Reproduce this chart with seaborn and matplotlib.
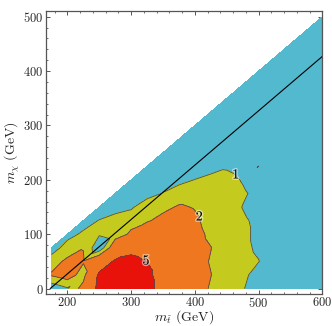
import numpy as np
import matplotlib
matplotlib.use("Agg")
import matplotlib.pyplot as plt
import matplotlib.tri as mtri
import matplotlib.patheffects as pe
from matplotlib.ticker import MultipleLocator
import seaborn as sns

# -----------------------------
# Data: significance on the (m_stop, m_chi) grid
# each column list runs from m_chi = 0 upward in 25 GeV steps,
# up to m_chi = m_stop - 100
# -----------------------------
m_stop = [175, 200, 225, 250, 275, 300, 325, 350, 375,
          400, 425, 450, 475, 500, 525, 550, 575, 600]
m_chi_step = 25

col_175 = [0.3, 2.1, 1.6, 0.4]
col_200 = [0.9, 2.6, 2.2, 1.5, 0.6]
col_225 = [2.5, 1.5, 2.1, 1.97, 1.2, 0.5]
col_250 = [5.7, 5.4, 3.5, 0.2, 1.1, 1.05, 0.3]
col_275 = [6.5, 6.0, 5.3, 3.0, 1.4, 1.4, 0.6, 0.3]
col_300 = [6.8, 6.5, 5.6, 4.35, 2.2, 1.6, 0.85, 0.4, 0.3]
col_325 = [6.0, 5.6, 4.95, 4.0, 2.8, 1.9, 1.6, 0.6, 0.4, 0.3]
col_350 = [3.8, 3.9, 3.8, 3.5, 3.0, 2.3, 1.76, 1.05, 0.5, 0.3, 0.2]
col_375 = [3.2, 3.3, 3.2, 3.0, 2.7, 2.4, 2.1, 1.5, 0.7, 0.4, 0.3, 0.2]
col_400 = [2.4, 2.35, 2.3, 2.3, 2.25, 2.15, 1.95, 1.6, 1.02, 0.5, 0.3, 0.25, 0.2]
col_425 = [1.92, 2.02, 1.95, 2.02, 1.85, 1.7, 1.6, 1.5, 1.3, 0.6, 0.4, 0.3, 0.25, 0.2]
col_450 = [1.5, 1.55, 1.5, 1.5, 1.45, 1.4, 1.4, 1.35, 1.25, 0.9, 0.5, 0.35, 0.3, 0.25, 0.2]
col_475 = [1.05, 1.15, 1.2, 1.15, 1.15, 1.1, 0.98, 1.1, 0.95, 0.7, 0.45, 0.35, 0.3, 0.25, 0.2, 0.2]
col_500 = [0.6, 0.75, 1.02, 0.9, 0.85, 0.85, 0.7, 0.8, 0.6, 1.005, 0.5, 0.35, 0.3, 0.25, 0.2, 0.2, 0.2]
col_525 = [0.5, 0.55, 0.6, 0.55, 0.5, 0.5, 0.45, 0.45, 0.4, 0.4, 0.35, 0.3, 0.3, 0.25, 0.2, 0.2, 0.2, 0.15]
col_550 = [0.45, 0.5, 0.5, 0.5, 0.45, 0.45, 0.4, 0.4, 0.35, 0.35, 0.3, 0.3, 0.25, 0.25, 0.2, 0.2,
           0.15, 0.15, 0.15]
col_575 = [0.4, 0.45, 0.45, 0.45, 0.4, 0.4, 0.35, 0.35, 0.3, 0.3, 0.3, 0.25, 0.25, 0.2, 0.2, 0.2,
           0.15, 0.15, 0.15, 0.1]
col_600 = [0.35, 0.4, 0.4, 0.4, 0.35, 0.35, 0.3, 0.3, 0.3, 0.25, 0.25, 0.25, 0.2, 0.2, 0.2, 0.15,
           0.15, 0.15, 0.1, 0.1, 0.1]

columns = [col_175, col_200, col_225, col_250, col_275, col_300, col_325, col_350, col_375,
           col_400, col_425, col_450, col_475, col_500, col_525, col_550, col_575, col_600]

m_top = 173
levels = [0, 1, 2, 5, 10]
line_levels = [1, 2, 5]
fill_colors = ["#52b9cf", "#c5cb1e", "#ee771f", "#e8120a"]

# -----------------------------
# Style
# -----------------------------
sns.set_style("ticks")
plt.rcParams["font.family"] = "serif"
plt.rcParams["font.serif"] = ["cmr10", "DejaVu Serif"]
plt.rcParams["mathtext.fontset"] = "cm"
plt.rcParams["axes.formatter.use_mathtext"] = True

# -----------------------------
# Build the triangulated grid (cells split along one diagonal)
# -----------------------------
xs, ys, zs = [], [], []
index = {}
for ms, col in zip(m_stop, columns):
    for i, v in enumerate(col):
        index[(ms, i)] = len(xs)
        xs.append(ms)
        ys.append(i * m_chi_step)
        zs.append(v)

triangles = []
for a, b, col_a in zip(m_stop[:-1], m_stop[1:], columns[:-1]):
    for i in range(len(col_a)):
        ll, lr, ur = index[(a, i)], index[(b, i)], index[(b, i + 1)]
        triangles.append([ll, lr, ur])
        if (a, i + 1) in index:
            triangles.append([ll, ur, index[(a, i + 1)]])

tri = mtri.Triangulation(xs, ys, triangles)

fig = plt.figure(figsize=(3.32, 3.26), dpi=100)
ax = fig.add_axes([0.1377, 0.0982, 0.8331, 0.8671])

ax.tricontourf(tri, zs, levels=levels, colors=fill_colors)
cs = ax.tricontour(tri, zs, levels=line_levels, colors="#4d4d4d", linewidths=0.6)
labels = ax.clabel(cs, fmt="%d", fontsize=10, inline=False, colors="black",
                   manual=[(463, 207), (404, 130), (324, 51)])
for t in labels:
    t.set_rotation(0)
    t.set_path_effects([pe.withStroke(linewidth=2, foreground="white", alpha=0.5)])

# m_chi = m_stop - m_top line
ax.plot([m_top, m_stop[-1]], [0, m_stop[-1] - m_top], color="black", lw=0.8)

ax.set_xlim(166, 600)
ax.set_ylim(-10, 510)
ax.xaxis.set_major_locator(MultipleLocator(100))
ax.xaxis.set_minor_locator(MultipleLocator(20))
ax.yaxis.set_major_locator(MultipleLocator(100))
ax.yaxis.set_minor_locator(MultipleLocator(20))
ax.tick_params(which="both", direction="in", top=True, right=True,
               color="#555555", labelsize=9, pad=1.5)
ax.tick_params(which="major", length=3.2, width=0.7)
ax.tick_params(which="minor", length=1.6, width=0.6)
for s in ax.spines.values():
    s.set_color("#555555")
    s.set_linewidth(0.9)

ax.set_xlabel(r"$m_{\tilde{t}}$ (GeV)", fontsize=10, labelpad=-1)
ax.set_ylabel(r"$m_{\chi}$ (GeV)", fontsize=10, labelpad=1)

fig.savefig("out.png", dpi=100)
